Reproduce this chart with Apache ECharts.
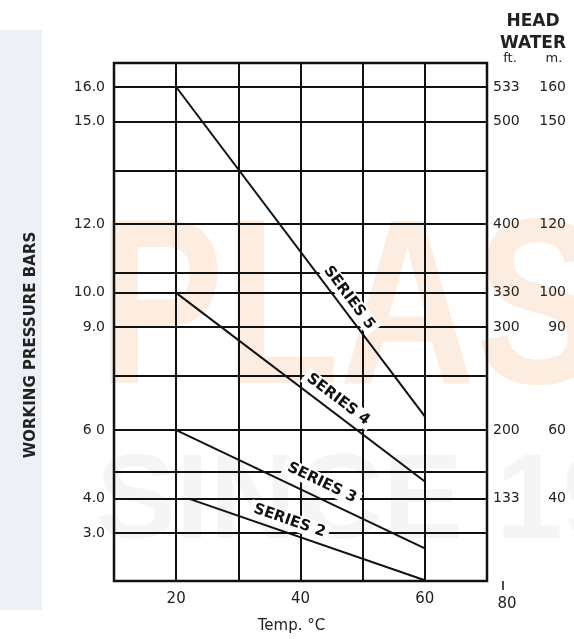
<!DOCTYPE html>
<html>
<head>
<meta charset="utf-8">
<script src="https://cdn.jsdelivr.net/npm/echarts@6/dist/echarts.min.js"></script>
<style>
  html, body { margin: 0; padding: 0; background: #fff; }
  #chart { width: 574px; height: 639px; }
</style>
</head>
<body>
<div id="chart"></div>
<script>
// pressure lines: temp (°C) -> working pressure (bars)
const seriesNames = ['SERIES 2', 'SERIES 3', 'SERIES 4', 'SERIES 5']
const startTemp = [22, 20, 20, 20]
const endTemp = [60, 60, 60, 60]
const startBars = [4.0, 6.0, 10.0, 16.0]
const endBars = [1.62, 2.55, 4.5, 6.4]

// axis ticks
const xLabelValues = [20, 40, 60]
const barGridValues = [16, 15, 13.57, 12, 10.59, 10, 9, 7.59, 6, 4.79, 4, 3]
const barLabelValues = [16, 15, 12, 10, 9, 6, 4, 3]
const barLabels = ['16.0', '15.0', '12.0', '10.0', '9.0', '6 0', '4.0', '3.0']
const headValues = [16, 15, 12, 10, 9, 6, 4]
const headFt = ['533', '500', '400', '330', '300', '200', '133']
const headM = ['160', '150', '120', '100', '90', '60', '40']

// where each series name sits along its line (0..1) and how far above it
const labelAt = [0.41, 0.56, 0.62, 0.66]
const labelGap = [12, 15, 13, 11]

const FONT = '"DejaVu Sans", sans-serif'
const INK = '#111'
const TEXT = '#222'

function pick(values, list, v) {
  const i = values.findIndex(x => Math.abs(x - v) < 1e-6)
  return i < 0 ? '' : list[i]
}

const chart = echarts.init(document.getElementById('chart'))

chart.setOption({
  animation: false,
  backgroundColor: '#fff',
  grid: {
    left: 114,
    right: 87,
    top: 63,
    bottom: 55,
    show: true,
    borderColor: INK,
    borderWidth: 2.5,
  },
  xAxis: {
    type: 'value',
    min: 10,
    max: 70,
    interval: 10,
    axisLine: { show: false },
    axisTick: { show: false },
    splitLine: { lineStyle: { color: INK, width: 2 } },
    axisLabel: { customValues: xLabelValues, margin: 11, color: TEXT, fontSize: 15, fontFamily: FONT },
    name: 'Temp. °C',
    nameLocation: 'middle',
    nameGap: 38,
    nameTextStyle: { color: TEXT, fontSize: 15, fontFamily: FONT, padding: [0, 18, 0, 0] },
  },
  yAxis: [
    {
      type: 'value',
      min: 1.6,
      max: 16.7,
      axisLine: { show: false },
      axisTick: { show: false, customValues: barGridValues },
      splitLine: { lineStyle: { color: INK, width: 2 } },
      axisLabel: {
        customValues: barLabelValues,
        formatter: v => pick(barLabelValues, barLabels, v),
        margin: 9,
        color: TEXT,
        fontSize: 14,
        fontFamily: FONT,
      },
    },
    {
      type: 'value',
      position: 'right',
      min: 1.6,
      max: 16.7,
      axisLine: { show: false },
      axisTick: { show: false, customValues: headValues },
      splitLine: { show: false },
      axisLabel: {
        customValues: headValues,
        margin: 6,
        formatter: v => `{f|${pick(headValues, headFt, v)}}{m|${pick(headValues, headM, v)}}`,
        rich: {
          f: { width: 45, align: 'left', color: TEXT, fontSize: 14, fontFamily: FONT },
          m: { width: 28, align: 'right', color: TEXT, fontSize: 14, fontFamily: FONT },
        },
      },
    },
  ],
  series: seriesNames.map((name, i) => ({
    name,
    type: 'line',
    yAxisIndex: 0,
    symbol: 'none',
    silent: true,
    lineStyle: { color: INK, width: 2 },
    data: [[startTemp[i], startBars[i]], [endTemp[i], endBars[i]]],
  })),
})

// series names written along their lines
const lineLabels = seriesNames.map((name, i) => {
  const a = chart.convertToPixel({ seriesIndex: i }, [startTemp[i], startBars[i]])
  const b = chart.convertToPixel({ seriesIndex: i }, [endTemp[i], endBars[i]])
  const ang = Math.atan2(b[1] - a[1], b[0] - a[0])
  const t = labelAt[i]
  return {
    type: 'text',
    z: 50,
    x: a[0] + (b[0] - a[0]) * t + Math.sin(ang) * labelGap[i],
    y: a[1] + (b[1] - a[1]) * t - Math.cos(ang) * labelGap[i],
    rotation: -ang,
    style: {
      text: name,
      fill: INK,
      font: 'bold 15px ' + FONT,
      align: 'center',
      verticalAlign: 'middle',
      backgroundColor: '#fff',
      padding: [1, 4],
    },
  }
})

chart.setOption({
  graphic: [
    // faint scan watermark
    { type: 'rect', z: -10, shape: { x: 0, y: 30, width: 42, height: 580 }, style: { fill: '#edf0f6' } },
    {
      type: 'text', z: -10, x: 98, y: 318, scaleX: 0.8,
      style: { text: 'PLAS', font: 'bold 236px "Liberation Sans"', fill: '#fdede0', verticalAlign: 'middle' },
    },
    {
      type: 'text', z: -10, x: 96, y: 505,
      style: { text: 'SINCE 1966', font: 'bold 120px "Liberation Sans"', fill: '#f5f5f5', verticalAlign: 'middle' },
    },
    // axis titles
    {
      type: 'text', x: 31, y: 345, rotation: Math.PI / 2,
      style: { text: 'WORKING PRESSURE BARS', font: 'bold 15px ' + FONT, fill: TEXT, align: 'center', verticalAlign: 'middle' },
    },
    { type: 'text', x: 533, y: 22, style: { text: 'HEAD', font: 'bold 17px ' + FONT, fill: TEXT, align: 'center', verticalAlign: 'middle' } },
    { type: 'text', x: 533, y: 44, style: { text: 'WATER', font: 'bold 17px ' + FONT, fill: TEXT, align: 'center', verticalAlign: 'middle' } },
    { type: 'text', x: 510, y: 59, style: { text: 'ft.', font: '13px ' + FONT, fill: TEXT, align: 'center', verticalAlign: 'middle' } },
    { type: 'text', x: 554, y: 59, style: { text: 'm.', font: '13px ' + FONT, fill: TEXT, align: 'center', verticalAlign: 'middle' } },
    // stray 80 mark below the right column
    { type: 'line', shape: { x1: 503, y1: 581, x2: 503, y2: 590 }, style: { stroke: INK, lineWidth: 1.5 } },
    { type: 'text', x: 507, y: 604, style: { text: '80', font: '15px ' + FONT, fill: TEXT, align: 'center', verticalAlign: 'middle' } },
    ...lineLabels,
  ],
})
</script>
</body>
</html>
